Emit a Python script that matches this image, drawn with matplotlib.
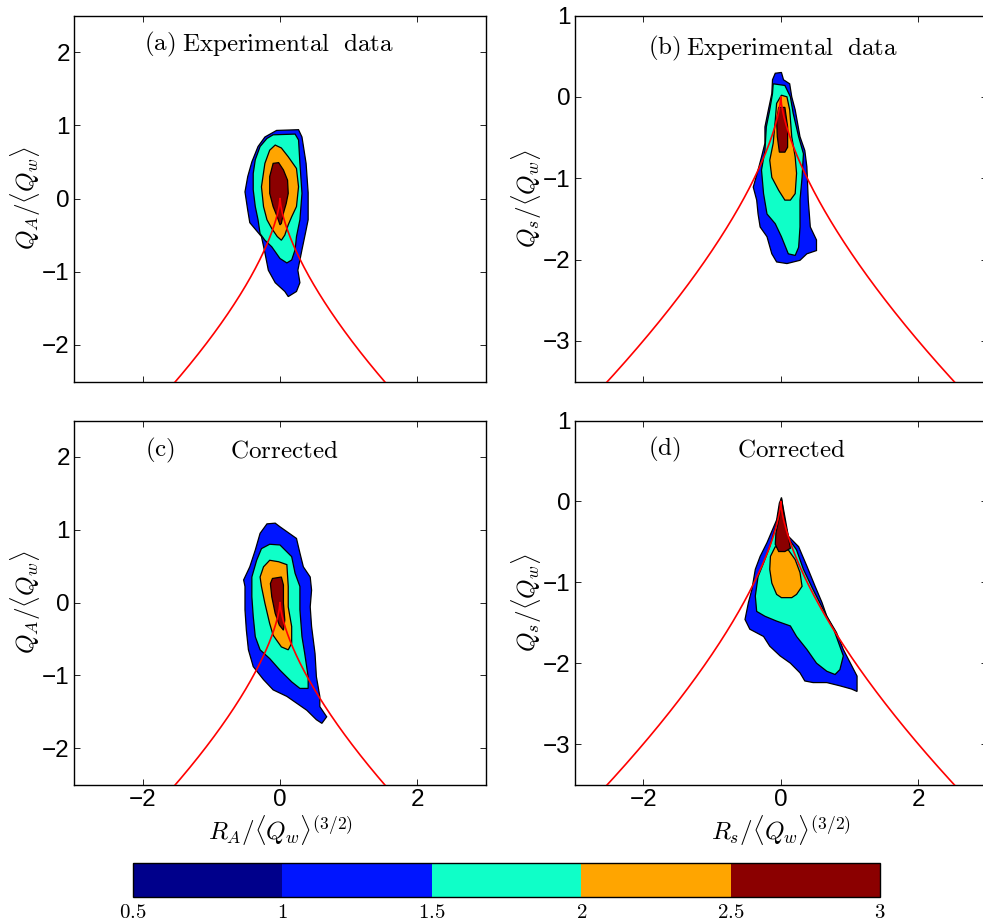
import numpy as np
import matplotlib.pyplot as plt
from matplotlib.colors import ListedColormap, BoundaryNorm
import matplotlib as mpl

plt.rcParams['mathtext.fontset'] = 'cm'
plt.rcParams['font.family'] = ['Liberation Sans', 'DejaVu Sans']

# pdf levels and colours (log10 of the joint pdf)
levels = [0.5, 1.0, 1.5, 2.0, 2.5, 3.0]
level_colors = ['#00008B', '#0015FF', '#0FFFC8', '#FFA500', '#8B0000']

# contour outlines, one list of (R, Q) vertices per filled level: 1.0, 1.5, 2.0, 2.5
a_lvl1 = [(-0.05, 0.93), (0.27, 0.94), (0.32, 0.84), (0.38, 0.48), (0.41, 0.08), (0.41, -0.29),
          (0.38, -0.43), (0.32, -0.70), (0.26, -0.98), (0.29, -1.15), (0.24, -1.27), (0.12, -1.34),
          (0.07, -1.27), (-0.07, -1.15), (-0.17, -0.98), (-0.22, -0.74), (-0.27, -0.52), (-0.44, -0.33),
          (-0.47, -0.16), (-0.51, 0.09), (-0.47, 0.30), (-0.41, 0.50), (-0.32, 0.71), (-0.22, 0.84)]
a_lvl2 = [(-0.10, 0.87), (0.22, 0.88), (0.27, 0.80), (0.29, 0.48), (0.32, 0.07), (0.29, -0.29),
          (0.24, -0.52), (0.22, -0.70), (0.17, -0.84), (0.10, -0.88), (0.0, -0.82), (-0.12, -0.66),
          (-0.22, -0.57), (-0.29, -0.48), (-0.32, -0.29), (-0.36, -0.11), (-0.39, 0.12), (-0.39, 0.34),
          (-0.36, 0.53), (-0.29, 0.71), (-0.19, 0.82)]
a_lvl3 = [(-0.07, 0.73), (0.02, 0.69), (0.12, 0.57), (0.24, 0.41), (0.27, 0.16), (0.24, -0.11),
          (0.17, -0.25), (0.12, -0.36), (0.07, -0.50), (0.02, -0.57), (-0.04, -0.52), (-0.12, -0.41),
          (-0.19, -0.29), (-0.24, -0.11), (-0.27, 0.16), (-0.22, 0.48), (-0.15, 0.66)]
a_lvl4 = [(-0.10, 0.48), (-0.02, 0.49), (0.05, 0.39), (0.11, 0.25), (0.12, 0.07), (0.09, -0.07),
          (0.05, -0.20), (0.02, -0.34), (0.0, -0.36), (-0.04, -0.25), (-0.10, -0.11), (-0.15, 0.07),
          (-0.15, 0.30)]

b_lvl1 = [(-0.08, 0.29), (0.01, 0.30), (0.04, 0.21), (0.13, 0.16), (0.16, 0.0), (0.21, -0.16),
          (0.28, -0.49), (0.35, -0.66), (0.38, -0.86), (0.40, -1.27), (0.43, -1.60), (0.52, -1.76),
          (0.52, -1.89), (0.38, -1.93), (0.28, -2.01), (0.09, -2.05), (-0.06, -2.03), (-0.13, -1.93),
          (-0.20, -1.72), (-0.30, -1.60), (-0.33, -1.44), (-0.35, -1.27), (-0.40, -1.11), (-0.33, -0.90),
          (-0.28, -0.74), (-0.23, -0.57), (-0.23, -0.37), (-0.18, -0.16), (-0.13, 0.04), (-0.12, 0.21)]
b_lvl2 = [(-0.11, 0.16), (0.06, 0.14), (0.14, 0.0), (0.18, -0.20), (0.26, -0.49), (0.33, -0.70),
          (0.31, -0.99), (0.28, -1.27), (0.28, -1.60), (0.26, -1.85), (0.21, -1.95), (0.11, -1.93),
          (0.01, -1.72), (-0.08, -1.56), (-0.20, -1.44), (-0.25, -1.19), (-0.28, -0.90), (-0.23, -0.66),
          (-0.21, -0.37), (-0.16, -0.16), (-0.12, 0.04)]
b_lvl3 = [(0.01, 0.02), (0.09, 0.0), (0.13, -0.16), (0.16, -0.49), (0.21, -0.74), (0.23, -0.94),
          (0.21, -1.19), (0.14, -1.27), (0.06, -1.27), (-0.03, -1.15), (-0.13, -0.99), (-0.16, -0.78),
          (-0.11, -0.57), (-0.08, -0.29), (-0.06, -0.08)]
b_lvl4 = [(-0.03, -0.13), (0.06, -0.13), (0.10, -0.37), (0.10, -0.62), (0.06, -0.68), (-0.02, -0.68),
          (-0.05, -0.49), (-0.06, -0.29)]

c_lvl1 = [(-0.19, 1.08), (-0.07, 1.09), (0.0, 1.04), (0.24, 0.88), (0.29, 0.68), (0.34, 0.49),
          (0.44, 0.35), (0.46, 0.17), (0.44, -0.06), (0.46, -0.33), (0.51, -0.70), (0.53, -1.02),
          (0.58, -1.29), (0.58, -1.43), (0.68, -1.57), (0.61, -1.66), (0.53, -1.61), (0.39, -1.48),
          (0.10, -1.29), (-0.10, -1.20), (-0.24, -1.06), (-0.39, -0.88), (-0.46, -0.65), (-0.49, -0.38),
          (-0.51, -0.10), (-0.51, 0.22), (-0.53, 0.31), (-0.44, 0.49), (-0.36, 0.72), (-0.29, 0.95)]
c_lvl2 = [(-0.15, 0.80), (0.0, 0.79), (0.17, 0.63), (0.22, 0.40), (0.29, 0.22), (0.29, -0.10),
          (0.32, -0.47), (0.36, -0.70), (0.41, -1.02), (0.41, -1.18), (0.29, -1.18), (0.17, -1.09),
          (0.0, -0.93), (-0.15, -0.77), (-0.29, -0.65), (-0.36, -0.47), (-0.39, -0.19), (-0.41, 0.08),
          (-0.41, 0.35), (-0.34, 0.58), (-0.27, 0.74)]
c_lvl3 = [(-0.15, 0.58), (-0.02, 0.56), (0.10, 0.52), (0.12, 0.22), (0.12, -0.06), (0.17, -0.33),
          (0.17, -0.56), (0.12, -0.65), (0.02, -0.61), (-0.10, -0.45), (-0.15, -0.29), (-0.22, -0.01),
          (-0.27, 0.22), (-0.29, 0.35), (-0.24, 0.49)]
c_lvl4 = [(-0.11, 0.33), (0.02, 0.35), (0.05, 0.24), (0.05, -0.01), (0.07, -0.24), (0.05, -0.38),
          (-0.01, -0.31), (-0.07, -0.15), (-0.12, 0.08), (-0.14, 0.26)]

d_lvl1 = [(0.01, 0.04), (0.06, -0.19), (0.11, -0.43), (0.26, -0.56), (0.38, -0.80), (0.50, -1.05),
          (0.60, -1.25), (0.67, -1.42), (0.81, -1.62), (0.91, -1.83), (1.11, -2.16), (1.11, -2.35),
          (1.03, -2.32), (0.86, -2.28), (0.67, -2.24), (0.47, -2.24), (0.35, -2.22), (0.28, -2.12),
          (0.14, -2.00), (-0.01, -1.91), (-0.16, -1.79), (-0.25, -1.67), (-0.45, -1.58), (-0.52, -1.46),
          (-0.47, -1.25), (-0.42, -1.09), (-0.37, -0.84), (-0.30, -0.68), (-0.20, -0.51), (-0.16, -0.43),
          (-0.06, -0.23), (-0.02, -0.02)]
d_lvl2 = [(0.01, 0.02), (0.04, -0.19), (0.09, -0.43), (0.23, -0.60), (0.33, -0.84), (0.47, -1.09),
          (0.62, -1.34), (0.77, -1.58), (0.91, -1.91), (0.86, -2.08), (0.79, -2.14), (0.67, -2.10),
          (0.52, -2.00), (0.38, -1.83), (0.23, -1.67), (0.14, -1.54), (-0.06, -1.48), (-0.23, -1.42),
          (-0.35, -1.36), (-0.37, -1.17), (-0.33, -0.93), (-0.25, -0.76), (-0.16, -0.56), (-0.06, -0.27),
          (-0.01, -0.04)]
d_lvl3 = [(-0.08, -0.56), (0.11, -0.60), (0.21, -0.72), (0.28, -0.88), (0.31, -1.05), (0.23, -1.15),
          (0.16, -1.19), (0.01, -1.19), (-0.06, -1.15), (-0.13, -1.01), (-0.16, -0.84), (-0.15, -0.68)]
d_lvl4 = [(0.01, 0.05), (0.06, -0.27), (0.11, -0.43), (0.14, -0.58), (0.06, -0.62), (-0.03, -0.62),
          (-0.08, -0.53), (-0.07, -0.39), (-0.02, -0.19)]

panels = [
    ('a', 'Experimental  data', [a_lvl1, a_lvl2, a_lvl3, a_lvl4], (-2.5, 2.5)),
    ('b', 'Experimental  data', [b_lvl1, b_lvl2, b_lvl3, b_lvl4], (-3.5, 1.0)),
    ('c', 'Corrected', [c_lvl1, c_lvl2, c_lvl3, c_lvl4], (-2.5, 2.5)),
    ('d', 'Corrected', [d_lvl1, d_lvl2, d_lvl3, d_lvl4], (-3.5, 1.0)),
]
# (label x, words x, text y) in data units
title_pos = {'a': (-1.98, -1.43, 2.10), 'b': (-1.93, -1.38, 0.60),
             'c': (-1.97, -0.73, 2.09), 'd': (-1.93, -0.64, 0.64)}

ylabels = [r'$Q_A/\langle Q_w\rangle$', r'$Q_s/\langle Q_w\rangle$']
xlabels = [r'$R_A/\langle Q_w\rangle^{(3/2)}$', r'$R_s/\langle Q_w\rangle^{(3/2)}$']

W, H = 983, 923
fig = plt.figure(figsize=(W / 100, H / 100), dpi=100)

boxes = [(74, 15.5, 412, 366), (574.5, 15.5, 412.5, 366),
         (74, 420.5, 412, 364), (574.5, 420.5, 412.5, 364)]

# Vieillefosse tail
r_line = np.linspace(-3, 3, 601)
q_line = -(27.0 / 4.0 * r_line ** 2) ** (1.0 / 3.0)

for i, (tag, words, polys, ylim) in enumerate(panels):
    x0, y0, w, h = boxes[i]
    ax = fig.add_axes([x0 / W, 1 - (y0 + h) / H, w / W, h / H])
    for poly, col in zip(polys, level_colors[1:]):
        pts = np.array(poly)
        ax.fill(pts[:, 0], pts[:, 1], facecolor=col, edgecolor='black', linewidth=0.9, zorder=2)
    ax.plot(r_line, q_line, color='red', linewidth=1.2, zorder=3)

    ax.set_xlim(-3, 3)
    ax.set_ylim(*ylim)
    ax.set_xticks([-2, 0, 2])
    ax.set_yticks(np.arange(np.ceil(ylim[0]), ylim[1] + 0.01, 1))
    ax.tick_params(direction='in', top=True, right=True, length=4, width=0.6, labelsize=17.5, pad=3)
    for sp in ax.spines.values():
        sp.set_linewidth(1.0)

    lx, wx, ty = title_pos[tag]
    ax.text(lx, ty, r'$\mathrm{(%s)}$' % tag, fontsize=18, ha='left', va='center')
    ax.text(wx, ty, r'$\mathrm{%s}$' % words.replace(' ', r'\ '), fontsize=18, ha='left', va='center')

    ax.set_ylabel(ylabels[i % 2], fontsize=18)
    ax.yaxis.set_label_coords(-0.075, 0.5)
    if i < 2:
        ax.set_xticklabels([])
    else:
        ax.set_xlabel(xlabels[i % 2], fontsize=18, labelpad=2)

# colour bar
cax = fig.add_axes([133 / W, 1 - 897 / H, 747 / W, 34 / H])
cmap = ListedColormap(level_colors)
norm = BoundaryNorm(levels, cmap.N)
cb = mpl.colorbar.ColorbarBase(cax, cmap=cmap, norm=norm, orientation='horizontal',
                               boundaries=levels, ticks=levels)
cb.ax.tick_params(length=0, labelbottom=False)
for v in levels:
    cax.text(v, -0.45, r'$\mathrm{%g}$' % v, fontsize=15, ha='center', va='center',
             transform=cax.get_xaxis_transform())
cb.outline.set_linewidth(1.0)

fig.savefig('out.png', dpi=100)
